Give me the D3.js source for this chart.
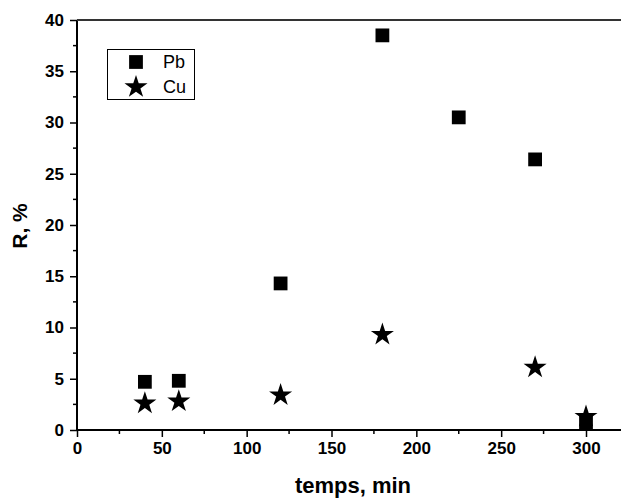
<!DOCTYPE html>
<html>
<head>
<meta charset="utf-8">
<script src="https://cdn.jsdelivr.net/npm/d3@7"></script>
<style>
body { margin: 0; background: #fff; }
svg { display: block; font-family: "Liberation Sans", Arial, sans-serif; }
</style>
</head>
<body>
<div id="chart"></div>
<script>
// data
var pbTime = [40, 60, 120, 180, 225, 270, 300];
var pbR    = [4.7, 4.8, 14.3, 38.5, 30.5, 26.4, 0.7];
var cuTime = [40, 60, 120, 180, 270, 300];
var cuR    = [2.6, 2.8, 3.4, 9.3, 6.1, 1.3];
var xTicks = [0, 50, 100, 150, 200, 250, 300];
var yTicks = [0, 5, 10, 15, 20, 25, 30, 35, 40];
var seriesNames = ["Pb", "Cu"];

var W = 621, H = 499;
var pLeft = 77, pTop = 20, pBottom = 430, pRight = 623;

var svg = d3.select("#chart").append("svg").attr("width", W).attr("height", H);

var x = d3.scaleLinear().domain([0, 300]).range([pLeft, 586]);
var y = d3.scaleLinear().domain([0, 40]).range([pBottom, pTop]);

// minor ticks
var xMinor = d3.range(25, 325, 50);
var yMinor = d3.range(2.5, 40, 5);

svg.selectAll(".xminor").data(xMinor).enter().append("line")
   .attr("x1", function(d){ return x(d); }).attr("x2", function(d){ return x(d); })
   .attr("y1", pBottom).attr("y2", pBottom + 4)
   .attr("stroke", "#000").attr("stroke-width", 1.5);
svg.selectAll(".yminor").data(yMinor).enter().append("line")
   .attr("y1", function(d){ return y(d); }).attr("y2", function(d){ return y(d); })
   .attr("x1", pLeft).attr("x2", pLeft - 4)
   .attr("stroke", "#000").attr("stroke-width", 1.5);

// axes
var xAxis = svg.append("g").attr("transform", "translate(0," + pBottom + ")")
   .call(d3.axisBottom(x).tickValues(xTicks).tickSize(7).tickSizeOuter(0).tickPadding(5));
var yAxis = svg.append("g").attr("transform", "translate(" + pLeft + ",0)")
   .call(d3.axisLeft(y).tickValues(yTicks).tickSize(7).tickSizeOuter(0).tickPadding(6));

[xAxis, yAxis].forEach(function(a){
  a.attr("font-size", 17).attr("font-weight", "bold")
   .attr("font-family", "'Liberation Sans', Arial, sans-serif");
  a.select(".domain").remove();
  a.selectAll(".tick line").attr("stroke", "#000").attr("stroke-width", 1.5);
  a.selectAll("text").attr("fill", "#000");
});

// frame lines
svg.append("line").attr("x1", pLeft).attr("x2", pRight).attr("y1", pBottom).attr("y2", pBottom)
   .attr("stroke", "#000").attr("stroke-width", 2);
svg.append("line").attr("x1", pLeft).attr("x2", pLeft).attr("y1", pTop).attr("y2", pBottom)
   .attr("stroke", "#000").attr("stroke-width", 2);
svg.append("line").attr("x1", pLeft).attr("x2", pRight).attr("y1", pTop).attr("y2", pTop)
   .attr("stroke", "#333").attr("stroke-width", 2);

// titles
svg.append("text").attr("x", 353).attr("y", 493).attr("text-anchor", "middle")
   .style("font-size", "22px").style("font-weight", "bold").text("temps, min");
svg.append("text").attr("transform", "translate(27,226) rotate(-90)").attr("text-anchor", "middle")
   .style("font-size", "21px").style("font-weight", "bold").text("R, %");

var square = d3.symbol().type(d3.symbolSquare).size(190);
var star = d3.symbol().type(d3.symbolStar).size(165);

// Cu first so the Pb squares sit on top
svg.selectAll(".cu").data(cuTime).enter().append("path")
   .attr("d", star)
   .attr("transform", function(d, i){ return "translate(" + x(d) + "," + y(cuR[i]) + ")"; })
   .attr("fill", "#000");
svg.selectAll(".pb").data(pbTime).enter().append("path")
   .attr("d", square)
   .attr("transform", function(d, i){ return "translate(" + x(d) + "," + y(pbR[i]) + ")"; })
   .attr("fill", "#000");

// legend
var lg = svg.append("g");
lg.append("rect").attr("x", 107.5).attr("y", 49.5).attr("width", 87).attr("height", 50)
  .attr("fill", "#fff").attr("stroke", "#000").attr("stroke-width", 1);
lg.append("path").attr("d", square).attr("transform", "translate(136,62)").attr("fill", "#000");
lg.append("path").attr("d", star).attr("transform", "translate(136,87)").attr("fill", "#000");
lg.selectAll(".lt").data(seriesNames).enter().append("text")
  .attr("x", 163).attr("y", function(d, i){ return 68 + i * 25; })
  .style("font-size", "18px").text(function(d){ return d; });
</script>
</body>
</html>
